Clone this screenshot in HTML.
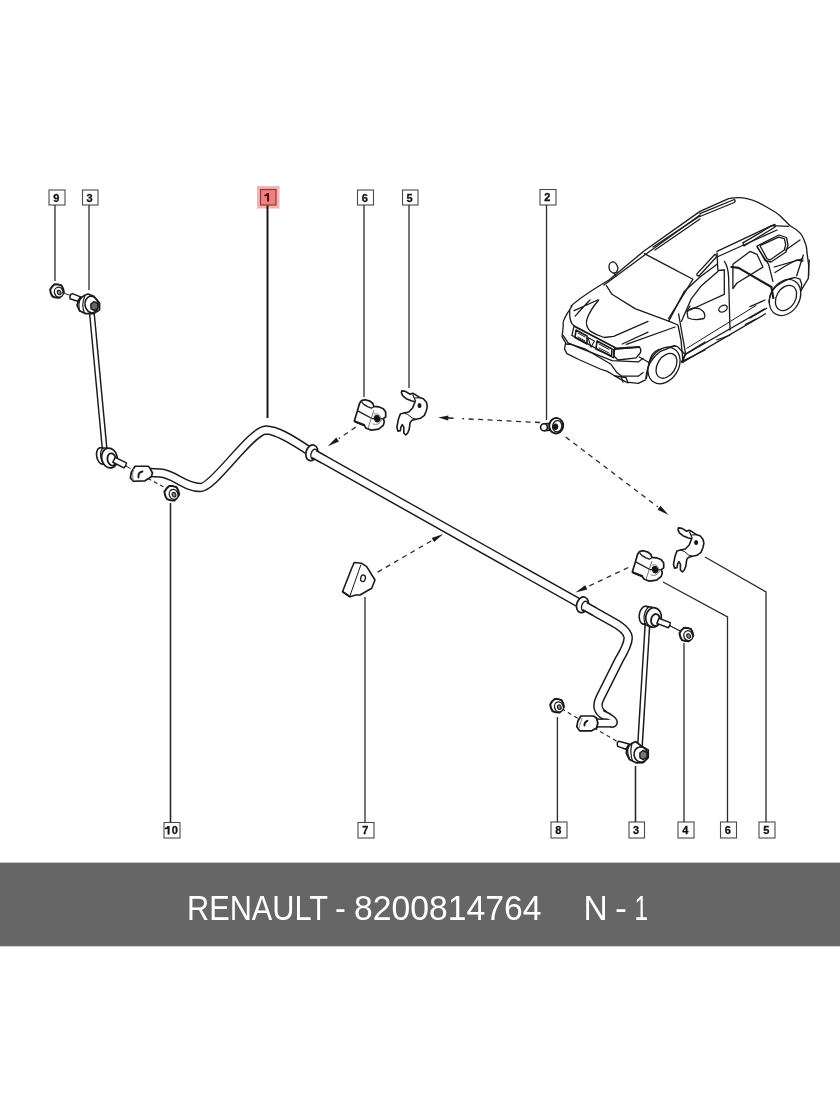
<!DOCTYPE html>
<html><head><meta charset="utf-8">
<style>
html,body{margin:0;padding:0;background:#fff;}
body{width:840px;height:1120px;position:relative;overflow:hidden;font-family:"Liberation Sans",sans-serif;}
svg{position:absolute;left:0;top:0;will-change:transform;}
#band{position:absolute;left:0;top:863px;width:840px;height:83px;background:#686868;}
#band span{position:absolute;top:0;color:#fff;font-size:32px;line-height:83px;white-space:nowrap;}
</style></head>
<body>
<svg width="840" height="1120" viewBox="0 0 840 1120">
<rect x="49" y="190" width="16" height="15" fill="#fff" stroke="#4a4a4a" stroke-width="1.1"/>
<text x="56.3" y="201.5" font-size="11" font-weight="bold" text-anchor="middle" fill="#111" stroke="#111" stroke-width="0.3" font-family="Liberation Sans">9</text>
<rect x="82.5" y="190" width="15.5" height="15" fill="#fff" stroke="#4a4a4a" stroke-width="1.1"/>
<text x="89.55" y="201.5" font-size="11" font-weight="bold" text-anchor="middle" fill="#111" stroke="#111" stroke-width="0.3" font-family="Liberation Sans">3</text>
<rect x="257.0" y="186.0" width="22.5" height="22.5" fill="#f6b3b3" stroke="none"/>
<rect x="260.5" y="189.5" width="15.5" height="15.5" fill="#f07f7f" stroke="#8a3a3a" stroke-width="1.2"/>
<path d="M267.05,192.95 L269.05,192.95 L269.05,201.45 L267.05,201.45 L267.05,195.65 Q265.65000000000003,196.25 264.25,196.35 L264.25,194.75 Q266.45000000000005,194.65 267.05,192.95 Z" fill="#5a0808"/>
<rect x="357.5" y="190" width="16.0" height="15" fill="#fff" stroke="#4a4a4a" stroke-width="1.1"/>
<text x="364.8" y="201.5" font-size="11" font-weight="bold" text-anchor="middle" fill="#111" stroke="#111" stroke-width="0.3" font-family="Liberation Sans">6</text>
<rect x="402.5" y="190" width="15.5" height="15" fill="#fff" stroke="#4a4a4a" stroke-width="1.1"/>
<text x="409.55" y="201.5" font-size="11" font-weight="bold" text-anchor="middle" fill="#111" stroke="#111" stroke-width="0.3" font-family="Liberation Sans">5</text>
<rect x="540" y="189.5" width="16" height="15.5" fill="#fff" stroke="#4a4a4a" stroke-width="1.1"/>
<text x="547.3" y="201.25" font-size="11" font-weight="bold" text-anchor="middle" fill="#111" stroke="#111" stroke-width="0.3" font-family="Liberation Sans">2</text>
<rect x="164" y="822.5" width="16" height="15.5" fill="#fff" stroke="#4a4a4a" stroke-width="1.1"/>
<path d="M167.6,825.95 L169.6,825.95 L169.6,834.45 L167.6,834.45 L167.6,828.65 Q166.20000000000002,829.25 164.8,829.35 L164.8,827.75 Q167.0,827.65 167.6,825.95 Z" fill="#111"/>
<text x="174.9" y="834.25" font-size="11" font-weight="bold" text-anchor="middle" fill="#111" stroke="#111" stroke-width="0.3" font-family="Liberation Sans">0</text>
<rect x="358" y="822.5" width="16" height="15.5" fill="#fff" stroke="#4a4a4a" stroke-width="1.1"/>
<text x="365.3" y="834.25" font-size="11" font-weight="bold" text-anchor="middle" fill="#111" stroke="#111" stroke-width="0.3" font-family="Liberation Sans">7</text>
<rect x="551" y="822" width="16" height="16" fill="#fff" stroke="#4a4a4a" stroke-width="1.1"/>
<text x="558.3" y="834.0" font-size="11" font-weight="bold" text-anchor="middle" fill="#111" stroke="#111" stroke-width="0.3" font-family="Liberation Sans">8</text>
<rect x="629" y="822" width="15.5" height="16" fill="#fff" stroke="#4a4a4a" stroke-width="1.1"/>
<text x="636.05" y="834.0" font-size="11" font-weight="bold" text-anchor="middle" fill="#111" stroke="#111" stroke-width="0.3" font-family="Liberation Sans">3</text>
<rect x="678" y="822" width="16" height="16" fill="#fff" stroke="#4a4a4a" stroke-width="1.1"/>
<text x="685.3" y="834.0" font-size="11" font-weight="bold" text-anchor="middle" fill="#111" stroke="#111" stroke-width="0.3" font-family="Liberation Sans">4</text>
<rect x="720.5" y="822" width="16.0" height="16" fill="#fff" stroke="#4a4a4a" stroke-width="1.1"/>
<text x="727.8" y="834.0" font-size="11" font-weight="bold" text-anchor="middle" fill="#111" stroke="#111" stroke-width="0.3" font-family="Liberation Sans">6</text>
<rect x="759" y="822" width="16" height="16" fill="#fff" stroke="#4a4a4a" stroke-width="1.1"/>
<text x="766.3" y="834.0" font-size="11" font-weight="bold" text-anchor="middle" fill="#111" stroke="#111" stroke-width="0.3" font-family="Liberation Sans">5</text>
<path d="M55,205 L55,281" fill="none" stroke="#2a2a2a" stroke-width="1.3"/>
<path d="M89,205 L89,290" fill="none" stroke="#2a2a2a" stroke-width="1.3"/>
<path d="M267.5,205.5 L267.5,418" fill="none" stroke="#1a1a1a" stroke-width="2.0"/>
<path d="M364,205 L364,397" fill="none" stroke="#2a2a2a" stroke-width="1.3"/>
<path d="M409,205 L409,388" fill="none" stroke="#2a2a2a" stroke-width="1.3"/>
<path d="M546.5,205 L546.5,420" fill="none" stroke="#2a2a2a" stroke-width="1.3"/>
<path d="M170.5,503 L170.5,822.5" fill="none" stroke="#2a2a2a" stroke-width="1.6"/>
<path d="M365,597 L365,822.5" fill="none" stroke="#2a2a2a" stroke-width="1.3"/>
<path d="M557.4,717 L557.4,822" fill="none" stroke="#2a2a2a" stroke-width="1.3"/>
<path d="M635.5,766 L635.5,822" fill="none" stroke="#2a2a2a" stroke-width="1.6"/>
<path d="M684,643 L684,822" fill="none" stroke="#2a2a2a" stroke-width="1.3"/>
<path d="M663,582 L727.5,617 L727.5,822" fill="none" stroke="#2a2a2a" stroke-width="1.3"/>
<path d="M705,557 L766,592 L766,822" fill="none" stroke="#2a2a2a" stroke-width="1.3"/>
<path d="M355.7,427.1 L338.85,438.59" stroke="#2a2a2a" stroke-width="1.3" stroke-dasharray="5,4.5" fill="none"/>
<path d="M327.7,446.2 L336.26,437.46 L338.97,441.42 Z" fill="#1a1a1a"/>
<path d="M540,422.5 L462.27,418.68" stroke="#2a2a2a" stroke-width="1.3" stroke-dasharray="5,4.5" fill="none"/>
<path d="M438.3,417.5 L448.41,415.59 L448.17,420.39 Z" fill="#1a1a1a"/>
<path d="M447,417.9 L453.5,418.3" fill="none" stroke="#2a2a2a" stroke-width="1.6"/>
<path d="M565.7,437.1 L657.84,506.85" stroke="#2a2a2a" stroke-width="1.3" stroke-dasharray="5,4.5" fill="none"/>
<path d="M668.6,515 L657.58,509.67 L660.48,505.84 Z" fill="#1a1a1a"/>
<path d="M377.6,572.1 L431.62,540.77" stroke="#2a2a2a" stroke-width="1.3" stroke-dasharray="5,4.5" fill="none"/>
<path d="M443.3,534 L434.12,542.10 L431.72,537.94 Z" fill="#1a1a1a"/>
<path d="M628.3,567.5 L587.61,586.73" stroke="#2a2a2a" stroke-width="1.3" stroke-dasharray="5,4.5" fill="none"/>
<path d="M575.4,592.5 L585.22,585.20 L587.27,589.54 Z" fill="#1a1a1a"/>
<path d="M141.5,475 L165,487.6" fill="none" stroke="#2a2a2a" stroke-width="1.2" stroke-dasharray="4,3"/>
<path d="M125.5,465.8 L130.5,468.6" fill="none" stroke="#2a2a2a" stroke-width="1.0"/>
<path d="M79,298 L70,294" fill="none" stroke="#2a2a2a" stroke-width="1.0"/>
<path d="M561.4,708.6 L617,741.4" fill="none" stroke="#2a2a2a" stroke-width="1.2" stroke-dasharray="4,3.5"/>
<path d="M669,625.4 L682,632" fill="none" stroke="#2a2a2a" stroke-width="1.0"/>
<path d="M150,472.5 L160,473 C174,473.5 184,487.5 200.5,487.5 C214,487.5 250,431 266,430 C276,430 290,438 312,452.9 L612,621.5 Q628,630 628.2,638 Q628,645 619,660 L600,698 C596,706 598,712 605,715.5" fill="none" stroke="#1a1a1a" stroke-width="9.6" stroke-linejoin="round" stroke-linecap="butt"/>
<path d="M150,472.5 L160,473 C174,473.5 184,487.5 200.5,487.5 C214,487.5 250,431 266,430 C276,430 290,438 312,452.9 L612,621.5 Q628,630 628.2,638 Q628,645 619,660 L600,698 C596,706 598,712 605,715.5" fill="none" stroke="#fff" stroke-width="6.699999999999999" stroke-linejoin="round" stroke-linecap="butt"/>
<path d="M596,723 L611,723" stroke="#1a1a1a" stroke-width="9.2" fill="none"/>
<path d="M595,723 L612,723" stroke="#fff" stroke-width="6.3" fill="none"/>
<path d="M603.8,710.8 Q610,713.5 613.7,716.5 Q617.5,719.5 617.2,722.8 Q616.5,727.3 611,727.3 L611.5,725.5 L611.5,720.2 L603,716 Z" fill="#fff" stroke="#1a1a1a" stroke-width="0" stroke-linejoin="round" stroke-linecap="round" />
<path d="M603.8,710.8 Q610,713.5 613.7,716.5 Q617.5,719.5 617.2,722.8 Q616.5,727.3 611,727.3" fill="none" stroke="#1a1a1a" stroke-width="1.5" stroke-linejoin="round" stroke-linecap="round" />
<path d="M135,466.25 L148.3,466.25 L150,468.3 L152.5,473 L151.25,476.7 L145,480.8 L133.3,481.25 L130.4,477.9 L131.25,472.5 Z" fill="#fff" stroke="#1a1a1a" stroke-width="1.7" stroke-linejoin="round" stroke-linecap="round" />
<path d="M142.5,471.5 Q138,472 138.5,477.5" fill="none" stroke="#1a1a1a" stroke-width="1.8" stroke-linejoin="round" stroke-linecap="round" />
<path d="M133.5,469 Q131.8,474 133,480" fill="none" stroke="#777" stroke-width="1.0" stroke-linejoin="round" stroke-linecap="round" />
<path d="M580.9,716 L593.4,716 L596.5,718 L597.8,723 L596.5,728 L591.6,730.8 L579.7,730.8 L576.8,726.7 L578,720.7 Z" fill="#fff" stroke="#1a1a1a" stroke-width="1.7" stroke-linejoin="round" stroke-linecap="round" />
<path d="M587.5,720.7 Q584,722.5 584.5,725.5" fill="none" stroke="#1a1a1a" stroke-width="1.9" stroke-linejoin="round" stroke-linecap="round" />
<path d="M596,717.5 Q599,722 597.5,728" fill="none" stroke="#1a1a1a" stroke-width="1.0" stroke-linejoin="round" stroke-linecap="round" />
<path d="M582,718.3 L579,727.9" fill="none" stroke="#888" stroke-width="1.0" stroke-linejoin="round" stroke-linecap="round" />
<ellipse cx="311.8" cy="452.8" rx="5.8" ry="8.0" transform="rotate(18 311.8 452.8)" fill="#fff" stroke="#1a1a1a" stroke-width="1.7"/>
<ellipse cx="314.06292480944376" cy="454.080301256269" rx="3.0" ry="4.9" transform="rotate(18 314.06292480944376 454.080301256269)" fill="#fff" stroke="#1a1a1a" stroke-width="1.4"/>
<path d="M314.06292480944376,454.080301256269 L323.9849797431586,459.69392984144855" stroke="#1a1a1a" stroke-width="9.6" fill="none"/>
<path d="M313.6277469614738,453.8340894762173 L324.8553354390985,460.186353401552" stroke="#fff" stroke-width="6.7" fill="none"/>
<ellipse cx="582.5" cy="604.8" rx="5.8" ry="8.0" transform="rotate(18 582.5 604.8)" fill="#fff" stroke="#1a1a1a" stroke-width="1.7"/>
<ellipse cx="584.7629248094437" cy="606.080301256269" rx="3.0" ry="4.9" transform="rotate(18 584.7629248094437 606.080301256269)" fill="#fff" stroke="#1a1a1a" stroke-width="1.4"/>
<path d="M584.7629248094437,606.080301256269 L594.6849797431586,611.6939298414485" stroke="#1a1a1a" stroke-width="9.6" fill="none"/>
<path d="M584.3277469614737,605.8340894762173 L595.5553354390985,612.186353401552" stroke="#fff" stroke-width="6.7" fill="none"/>
<path d="M91.6,310 L104.9,452" fill="none" stroke="#1a1a1a" stroke-width="6.0" stroke-linejoin="round" stroke-linecap="butt"/>
<path d="M91.6,310 L104.9,452" fill="none" stroke="#fff" stroke-width="3.1" stroke-linejoin="round" stroke-linecap="butt"/>
<path d="M63.89,292.25 L61.99,295.31 L59.39,297.78 L55.87,297.60 L52.50,296.52 L50.88,293.29 L50.11,289.75 L52.01,286.69 L54.61,284.22 L58.13,284.40 L61.50,285.48 L63.12,288.71 Z" fill="#fff" stroke="#1a1a1a" stroke-width="2.0" stroke-linejoin="round" stroke-linecap="round" />
<ellipse cx="58.8" cy="292.2" rx="4.3" ry="5.0" transform="rotate(-20 58.8 292.2)" fill="#fff" stroke="#1a1a1a" stroke-width="1.3"/>
<ellipse cx="59.2" cy="292.5" rx="1.8" ry="2.3" transform="rotate(-20 59.2 292.5)" fill="#888" stroke="#1a1a1a" stroke-width="1.1"/>
<path d="M62,292.5 L70.5,295.5" fill="none" stroke="#2a2a2a" stroke-width="1.0"/>
<path d="M72.4,293.6 L80.5,296.9 L77.6,301.2 L70,298.8 Q69.5,294.5 72.4,293.6 Z" fill="#fff" stroke="#1a1a1a" stroke-width="1.5" stroke-linejoin="round" stroke-linecap="round" />
<path d="M77,305 Q80,296 88,294 L93.8,296.4 L99.5,303.1 L99.5,309.8 L93.8,313.6 L85.7,313.6 L79.5,310.7 Z" fill="#fff" stroke="#1a1a1a" stroke-width="1.8" stroke-linejoin="round" stroke-linecap="round" />
<path d="M81,296.5 Q77.5,304 79.8,311.2 M84.8,296 Q81,305 84.5,313.2" fill="none" stroke="#1a1a1a" stroke-width="1.2" stroke-linejoin="round" stroke-linecap="round" />
<ellipse cx="91.5" cy="304.5" rx="6.5" ry="8.3" transform="rotate(-10 91.5 304.5)" fill="#fff" stroke="#1a1a1a" stroke-width="1.6"/>
<path d="M94,301.5 L97.8,303.6 L98,308 L94.5,310.5 L91,308.8 L90.8,304 Z" fill="#666" stroke="#1a1a1a" stroke-width="1.4" stroke-linejoin="round" stroke-linecap="round" />
<path d="M99.77,447.88 L107.42,448.22 L111.58,467.78 L103.23,464.12 Z" fill="#fff" stroke="#1a1a1a" stroke-width="1.5" stroke-linejoin="round"/>
<ellipse cx="101.5" cy="456" rx="4.8" ry="8.3" transform="rotate(-12 101.5 456)" fill="#fff" stroke="#1a1a1a" stroke-width="1.6"/>
<ellipse cx="105.50" cy="457.00" rx="4.72" ry="9.15" transform="rotate(-12 105.50 457.00)" fill="#fff" stroke="#1a1a1a" stroke-width="1.2"/>
<ellipse cx="109.5" cy="458" rx="7.8" ry="10" transform="rotate(-12 109.5 458)" fill="#fff" stroke="#1a1a1a" stroke-width="1.7"/>
<ellipse cx="111.8" cy="459.5" rx="4.3" ry="6.2" transform="rotate(-12 111.8 459.5)" fill="#fff" stroke="#1a1a1a" stroke-width="1.8"/>
<path d="M112.77,462.26 L123.97,467.86 Q126.27,465.94 126.43,462.94 L115.23,457.34 Z" fill="#fff" stroke="#1a1a1a" stroke-width="1.5" stroke-linejoin="round" stroke-linecap="round" />
<path d="M647.6,622 L639.8,748" fill="none" stroke="#1a1a1a" stroke-width="6.0" stroke-linejoin="round" stroke-linecap="butt"/>
<path d="M647.6,622 L639.8,748" fill="none" stroke="#fff" stroke-width="3.1" stroke-linejoin="round" stroke-linecap="butt"/>
<path d="M645.75,606.29 L654.86,607.80 L652.14,627.20 L643.25,624.11 Z" fill="#fff" stroke="#1a1a1a" stroke-width="1.5" stroke-linejoin="round"/>
<ellipse cx="644.5" cy="615.2" rx="5.2" ry="9" transform="rotate(8 644.5 615.2)" fill="#fff" stroke="#1a1a1a" stroke-width="1.6"/>
<ellipse cx="649.00" cy="616.35" rx="4.88" ry="9.40" transform="rotate(8 649.00 616.35)" fill="#fff" stroke="#1a1a1a" stroke-width="1.2"/>
<ellipse cx="653.5" cy="617.5" rx="7.8" ry="9.8" transform="rotate(8 653.5 617.5)" fill="#fff" stroke="#1a1a1a" stroke-width="1.7"/>
<ellipse cx="655.5" cy="620" rx="4.4" ry="6" transform="rotate(8 655.5 620)" fill="#fff" stroke="#1a1a1a" stroke-width="1.8"/>
<path d="M656.91,623.37 L668.31,627.77 Q670.42,625.63 670.29,622.63 L658.89,618.23 Z" fill="#fff" stroke="#1a1a1a" stroke-width="1.5" stroke-linejoin="round" stroke-linecap="round" />
<path d="M669.5,625.4 L680,631" fill="none" stroke="#2a2a2a" stroke-width="1.0"/>
<path d="M693.29,635.75 L691.39,638.81 L688.79,641.28 L685.27,641.10 L681.90,640.02 L680.28,636.79 L679.51,633.25 L681.41,630.19 L684.01,627.72 L687.53,627.90 L690.90,628.98 L692.52,632.21 Z" fill="#fff" stroke="#1a1a1a" stroke-width="2.0" stroke-linejoin="round" stroke-linecap="round" />
<ellipse cx="688.1999999999999" cy="635.7" rx="4.3" ry="5.0" transform="rotate(-20 688.1999999999999 635.7)" fill="#fff" stroke="#1a1a1a" stroke-width="1.3"/>
<ellipse cx="688.6" cy="636.0" rx="1.8" ry="2.3" transform="rotate(-20 688.6 636.0)" fill="#888" stroke="#1a1a1a" stroke-width="1.1"/>
<path d="M563.99,706.95 L562.09,710.01 L559.49,712.48 L555.97,712.30 L552.60,711.22 L550.98,707.99 L550.21,704.45 L552.11,701.39 L554.71,698.92 L558.23,699.10 L561.60,700.18 L563.22,703.41 Z" fill="#fff" stroke="#1a1a1a" stroke-width="2.0" stroke-linejoin="round" stroke-linecap="round" />
<ellipse cx="558.9" cy="706.9000000000001" rx="4.3" ry="5.0" transform="rotate(-20 558.9 706.9000000000001)" fill="#fff" stroke="#1a1a1a" stroke-width="1.3"/>
<ellipse cx="559.3000000000001" cy="707.2" rx="1.8" ry="2.3" transform="rotate(-20 559.3000000000001 707.2)" fill="#888" stroke="#1a1a1a" stroke-width="1.1"/>
<path d="M179.19,494.54 L177.14,497.82 L174.37,500.46 L170.59,500.28 L166.98,499.12 L165.25,495.66 L164.41,491.86 L166.46,488.58 L169.23,485.94 L173.01,486.12 L176.62,487.28 L178.35,490.74 Z" fill="#fff" stroke="#1a1a1a" stroke-width="2.0" stroke-linejoin="round" stroke-linecap="round" />
<ellipse cx="173.60000000000002" cy="494.4" rx="4.3" ry="5.0" transform="rotate(-20 173.60000000000002 494.4)" fill="#fff" stroke="#1a1a1a" stroke-width="1.3"/>
<ellipse cx="174.0" cy="494.7" rx="1.8" ry="2.3" transform="rotate(-20 174.0 494.7)" fill="#888" stroke="#1a1a1a" stroke-width="1.1"/>
<path d="M618.7,741.2 L629.1,744 L625.8,749.3 L617.7,746.4 Q616.5,742.5 618.7,741.2 Z" fill="#fff" stroke="#1a1a1a" stroke-width="1.5" stroke-linejoin="round" stroke-linecap="round" />
<path d="M626.3,753.1 Q627,744 635.8,741.7 L642.5,746.9 L648.2,750 L648.2,757.5 L643,762.6 L636,762.8 L629.5,759.5 Z" fill="#fff" stroke="#1a1a1a" stroke-width="1.8" stroke-linejoin="round" stroke-linecap="round" />
<path d="M628.5,745.5 Q626.5,752 629.5,759 M632,743.5 Q629.5,752 632.5,761" fill="none" stroke="#1a1a1a" stroke-width="1.2" stroke-linejoin="round" stroke-linecap="round" />
<ellipse cx="640.8" cy="754.5" rx="6.8" ry="7.6" transform="rotate(-10 640.8 754.5)" fill="#fff" stroke="#1a1a1a" stroke-width="1.6"/>
<path d="M643,750.5 L647,752.5 L647.2,757 L643.5,759.5 L640,757.8 L639.8,753 Z" fill="#777" stroke="#1a1a1a" stroke-width="1.4" stroke-linejoin="round" stroke-linecap="round" />
<path d="M544,423.8 L553,423.2 L553.5,430 L544.5,430.8 Z" fill="#999" stroke="#1a1a1a" stroke-width="1.4" stroke-linejoin="round" stroke-linecap="round" />
<ellipse cx="544" cy="427.3" rx="3.4" ry="3.5" transform="rotate(0 544 427.3)" fill="#fff" stroke="#1a1a1a" stroke-width="1.6"/>
<ellipse cx="556.2" cy="425.7" rx="7.0" ry="7.7" transform="rotate(10 556.2 425.7)" fill="#fff" stroke="#1a1a1a" stroke-width="2.0"/>
<ellipse cx="557.2" cy="426.2" rx="4.6" ry="5.6" transform="rotate(10 557.2 426.2)" fill="#fff" stroke="#1a1a1a" stroke-width="1.3"/>
<ellipse cx="555.5" cy="426.7" rx="2.4" ry="2.8" transform="rotate(0 555.5 426.7)" fill="#111" stroke="#1a1a1a" stroke-width="1.0"/>
<path d="M361.4,400.6 L365.2,399.7 L370,401.1 L372.9,403.5 L373.8,406.3 L378.6,406.8 L383.3,408.7 L385.7,412 L385.7,416.8 L383.3,418.7 L384.3,421.6 L383.3,425.4 L378.6,429.2 L371.4,430.1 L366.2,428.2 L364.3,425.4 L357.1,422.5 L354.3,421.1 L357.1,412 L359.5,403.5 Z" fill="#fff" stroke="#1a1a1a" stroke-width="1.7" stroke-linejoin="round" stroke-linecap="round" />
<path d="M361.9,402 Q363,404.5 368.1,406.8 L371.4,408.2 L373.8,406.8" fill="none" stroke="#1a1a1a" stroke-width="1.3" stroke-linejoin="round" stroke-linecap="round" />
<path d="M358.1,411.1 L372.4,418.7 L383.3,418.7" fill="none" stroke="#1a1a1a" stroke-width="1.3" stroke-linejoin="round" stroke-linecap="round" />
<path d="M373.8,410.6 L368.1,428.2" fill="none" stroke="#666" stroke-width="0.9" stroke-linejoin="round" stroke-linecap="round" />
<path d="M355,421.5 L364,425" fill="none" stroke="#1a1a1a" stroke-width="2.2" stroke-linejoin="round" stroke-linecap="round" />
<ellipse cx="377.1" cy="418.7" rx="2.6" ry="3.2" transform="rotate(-20 377.1 418.7)" fill="#111" stroke="#1a1a1a" stroke-width="1.3"/>
<path d="M374,414 Q380,412 381.5,420 Q379,426 373,424" fill="none" stroke="#777" stroke-width="0.9" stroke-linejoin="round" stroke-linecap="round" />
<path d="M401.8,390.9 L405.3,391.4 L410.2,394.3 L412.6,393.3 L415.6,394.8 L420,397.7 L423.4,398.7 L426.4,402.2 L427.3,406.1 L426.4,410.5 L424.4,415.4 L420.5,418.3 L416.1,419.3 L412.1,420.3 L410.2,422.3 L409.2,429.1 L407.7,433 L405.8,435 L403.8,433 L403.8,427.2 L402.3,424.7 L400.9,427.2 L400.4,430.6 L397.9,431.1 L396.9,427.2 L398.4,419.3 L400.4,413.9 L403.8,413 L408.7,412 L412.6,408 L415.1,401.7 L411.2,400.7 L406.3,398.7 L402.8,395.8 L401.4,392.8 Z" fill="#fff" stroke="#1a1a1a" stroke-width="1.6" stroke-linejoin="round" stroke-linecap="round" />
<path d="M403.8,413 Q408,413.5 412,418 L416.1,419.3" fill="none" stroke="#1a1a1a" stroke-width="1.0" stroke-linejoin="round" stroke-linecap="round" />
<path d="M415.1,398 L420,397.7 M413,395 L415.5,401" fill="none" stroke="#1a1a1a" stroke-width="1.2" stroke-linejoin="round" stroke-linecap="round" />
<ellipse cx="419.5" cy="405.6" rx="1.4" ry="1.9" transform="rotate(0 419.5 405.6)" fill="#111" stroke="#1a1a1a" stroke-width="1.2"/>
<g transform="translate(278 151)">
<path d="M361.4,400.6 L365.2,399.7 L370,401.1 L372.9,403.5 L373.8,406.3 L378.6,406.8 L383.3,408.7 L385.7,412 L385.7,416.8 L383.3,418.7 L384.3,421.6 L383.3,425.4 L378.6,429.2 L371.4,430.1 L366.2,428.2 L364.3,425.4 L357.1,422.5 L354.3,421.1 L357.1,412 L359.5,403.5 Z" fill="#fff" stroke="#1a1a1a" stroke-width="1.7" stroke-linejoin="round" stroke-linecap="round" />
<path d="M361.9,402 Q363,404.5 368.1,406.8 L371.4,408.2 L373.8,406.8" fill="none" stroke="#1a1a1a" stroke-width="1.3" stroke-linejoin="round" stroke-linecap="round" />
<path d="M358.1,411.1 L372.4,418.7 L383.3,418.7" fill="none" stroke="#1a1a1a" stroke-width="1.3" stroke-linejoin="round" stroke-linecap="round" />
<path d="M373.8,410.6 L368.1,428.2" fill="none" stroke="#666" stroke-width="0.9" stroke-linejoin="round" stroke-linecap="round" />
<path d="M355,421.5 L364,425" fill="none" stroke="#1a1a1a" stroke-width="2.2" stroke-linejoin="round" stroke-linecap="round" />
<ellipse cx="377.1" cy="418.7" rx="2.6" ry="3.2" transform="rotate(-20 377.1 418.7)" fill="#111" stroke="#1a1a1a" stroke-width="1.3"/>
<path d="M374,414 Q380,412 381.5,420 Q379,426 373,424" fill="none" stroke="#777" stroke-width="0.9" stroke-linejoin="round" stroke-linecap="round" />
</g>
<g transform="translate(276.6 137)">
<path d="M401.8,390.9 L405.3,391.4 L410.2,394.3 L412.6,393.3 L415.6,394.8 L420,397.7 L423.4,398.7 L426.4,402.2 L427.3,406.1 L426.4,410.5 L424.4,415.4 L420.5,418.3 L416.1,419.3 L412.1,420.3 L410.2,422.3 L409.2,429.1 L407.7,433 L405.8,435 L403.8,433 L403.8,427.2 L402.3,424.7 L400.9,427.2 L400.4,430.6 L397.9,431.1 L396.9,427.2 L398.4,419.3 L400.4,413.9 L403.8,413 L408.7,412 L412.6,408 L415.1,401.7 L411.2,400.7 L406.3,398.7 L402.8,395.8 L401.4,392.8 Z" fill="#fff" stroke="#1a1a1a" stroke-width="1.6" stroke-linejoin="round" stroke-linecap="round" />
<path d="M403.8,413 Q408,413.5 412,418 L416.1,419.3" fill="none" stroke="#1a1a1a" stroke-width="1.0" stroke-linejoin="round" stroke-linecap="round" />
<path d="M415.1,398 L420,397.7 M413,395 L415.5,401" fill="none" stroke="#1a1a1a" stroke-width="1.2" stroke-linejoin="round" stroke-linecap="round" />
<ellipse cx="419.5" cy="405.6" rx="1.4" ry="1.9" transform="rotate(0 419.5 405.6)" fill="#111" stroke="#1a1a1a" stroke-width="1.2"/>
</g>
<path d="M354.2,562.5 L361.7,563.3 L366.7,566.7 L375,580 L371.7,588.3 L360,595 L355.8,595 L350,596.7 L342.5,591.7 L351.7,568.3 Z" fill="#fff" stroke="#1a1a1a" stroke-width="1.6" stroke-linejoin="round" stroke-linecap="round" />
<path d="M360.8,565 L350,595.8" fill="none" stroke="#1a1a1a" stroke-width="1.0" stroke-linejoin="round" stroke-linecap="round" />
<path d="M343,592 L349.5,596.5" fill="none" stroke="#1a1a1a" stroke-width="2.0" stroke-linejoin="round" stroke-linecap="round" />
<ellipse cx="363" cy="578.3" rx="2.3" ry="3.3" transform="rotate(15 363 578.3)" fill="#fff" stroke="#1a1a1a" stroke-width="1.3"/>
<g id="car" fill="none" stroke="#1a1a1a" stroke-width="1.3" stroke-linejoin="round" stroke-linecap="round">
<!-- roof left edge -->
<path d="M571,306 C580,298 592,290 609,280 L644,251 L700,211.4 L728.6,198.6 C735,197.5 740,197.6 743,197.9 C752,199 758,202 764.3,205.7 C770,209 776,212 780,215.7 L790,225.7 C796,229 798,231 800,232.9 C803,236 804,240 805.7,244.3 C807,248 807,250 807,252.9 L808.6,264.3 L808.6,276"/>
<path d="M604,285 L644,255.5 L700,215"/>
<!-- left roof rail -->
<path d="M700,213.6 L734.3,199.5 Q736,201 734.3,202.5 L700,216.5"/>
<path d="M653,247 L700,216 M655,250 L700,219"/>
<!-- windshield -->
<path d="M644.3,253.6 Q668,266 692.9,279.3 L668.6,318.6"/>
<path d="M606.4,285.7 L612,294.3 L635,308.6 L669.3,321.4"/>
<!-- mirror left -->
<path d="M612,262 Q616,261 618,268 Q617,274 613,273 Q609,271 609,267 Q609,263 612,262 Z"/>
<path d="M614,273 L616,276"/>
<!-- hood creases -->
<path d="M598.7,300 Q590,310 586.9,319.3 Q585,326 590.2,331.1 Q596,335 604.1,337.5 L613.7,336.4 L648,321.4"/>
<path d="M622.3,344 L648,332.1"/>
<path d="M574.1,310.7 L597.7,300 M575.1,316.1 Q585,305 590,300"/>
<!-- front face -->
<path d="M571.9,306.4 L567.6,312.9 Q562,322 563.3,325 L562.1,336.9 L565.7,342.9 L564.5,348.8 L566.9,353.6 L578.8,359.5 L600.2,369 L607.4,371.4 L613.3,375 L619.3,378.6 L626.4,382.1 L638.3,383.3 L645.5,379.8"/>
<path d="M569.8,310.7 Q569,318 571.9,323.6 L575.1,326.8 L615.9,348.2"/>
<path d="M574.1,325.7 L614.8,347.2 L613.7,357.9 L571.9,335.4 Z"/>
<path d="M576,330 L587,336 L587,344 L575,337.5 Z M597,341 L612,349 L611.5,356 L596,349 Z" stroke-width="1.6"/>
<path d="M578,333 L585,337 M599,344 L609,349.5 M578,337 L585,341 M599,348 L609,353" stroke-width="1"/>
<path d="M588,337.5 L594.4,341 L591,347.2 Z" stroke-width="1.1"/>
<path d="M613.7,349.3 L639.5,347.2 Q641.5,349 640.5,352.5 L636.2,357.9 L618,360 L613.7,355.7 Z"/>
<path d="M616,348.5 L639,347" stroke-width="2.2"/>
<path d="M563.3,335.7 L568.1,342.9 L578.8,347.6 L612.1,360.7 L638.3,361.9 L643.1,358.3"/>
<path d="M565.7,344 L572,344.5 L584.8,348.8 L605,360.7 L611,364.3 L616.9,372.6 L621.7,376.2 L638.3,376.2 L643.1,372.6"/>
<path d="M615,376 L626,377.5 L628,383 M621,376.5 L623,382"/>
<!-- fender / arch -->
<path d="M646.4,378.6 L649.3,361.4 Q652,352 657.9,350 L675,345.7"/>
<path d="M626.4,344.3 L675,327 M639.3,357 L652,364.3"/>
<path d="M669.3,321.4 L678,325 L681,340 L683,362"/>
<!-- front wheel -->
<ellipse cx="664" cy="365.5" rx="14.5" ry="19.5" transform="rotate(32 664 365.5)" fill="#fff"/>
<ellipse cx="666.5" cy="365.8" rx="9" ry="13.5" transform="rotate(32 666.5 365.8)"/>
<path d="M645.8,378.3 Q647,368 650.8,361.7 Q655,355 660,351.7 L674.2,345.8 Q678,346 680,349.2 L685,354.2 L681.7,361.7"/>
<path d="M681.7,361.7 L705,350 M686.7,353.3 L705,342"/>
<!-- A pillar right -->
<path d="M668.6,321.4 L684.3,291.4 L700,277 L717,264.3"/>
<path d="M681.4,321.4 L691.4,298.6 L701.4,285.7 L717.9,271.4"/>
<path d="M697.1,273.6 L715,254.3 Q717,255 716,257.5 L699,276 Q696,276 697.1,273.6 Z"/>
<!-- roof right edge -->
<path d="M717,251.4 L771.4,225.7 L788.6,226.4"/>
<path d="M717,257 L777,230"/>
<path d="M742.9,242.9 L774.3,224.3 Q776,225 775,227 L744,246 Z"/>
<!-- B pillar -->
<path d="M717,252.9 L717.9,270.5 L724.3,270"/>
<path d="M724.3,261.4 Q728,266 728.6,277.1 L730,330"/>
<path d="M724.3,270 L724.3,294.3 L690,310"/>
<!-- rear quarter window -->
<path d="M760,245.7 L778.6,237.1 L784.3,238.6 L785.7,244.3 L784.3,250 L770,260 L767,258.6 Z"/>
<path d="M757,247 L768.6,264.3 L772.9,281.4"/>
<path d="M757,246 L779,235 L786.5,237.5 L788,245 L786,252 L771,262 L765,260.5 Z"/>
<!-- rear door window -->
<path d="M732.9,264.3 L750,251.4 L757,254.3 L762.9,267.1 L737,283 L732.9,288.6 Z"/>
<!-- rear lines -->
<path d="M774.3,267 L803,258.6 M785.7,250 L800,240"/>
<!-- front door -->
<path d="M678.6,313.8 L681.4,330 L685.7,354.3"/>
<path d="M685.7,354.3 L764.3,309"/>
<path d="M686.9,348.3 L756,305.5" stroke-width="1"/>
<path d="M682,362.6 L765.5,313.8 M685.7,354.3 L682,362.6"/>
<path d="M716.7,340 L729.8,335.2 M745.2,324.5 L756,319" stroke-width="1.1"/>
<!-- rear wheel -->
<ellipse cx="785" cy="297.5" rx="14.5" ry="19" transform="rotate(30 785 297.5)" fill="#fff"/>
<ellipse cx="786" cy="298" rx="9.5" ry="13.5" transform="rotate(30 786 298)"/>
<path d="M769,302 Q770,292 775.8,286.7 Q785,279 795,277.5 L800,279.2 L801.7,284.2 L800.8,290.8"/>
<path d="M800.8,290.8 L808.3,278.3 L809.2,260 M803.3,255 L796.7,275.8"/>
<path d="M775,272.5 Q786,265 796.7,260 L803,261"/>
<path d="M750,306.7 L765,300 M766.7,308.3 L750,318"/>
<!-- mirror right -->
<path d="M687,312 Q692,306 700,309 Q707,313 704,318.5 Q695,321 688,318 Z"/>
<path d="M687,311 L690,306"/>
<ellipse cx="723" cy="308.6" rx="4.5" ry="3" transform="rotate(-30 723 308.6)"/>
<!-- wire -->
<path d="M731.4,267 L738.6,267.9 L771.4,287 L773.3,298" stroke-width="2.2"/>
</g>

<rect x="0" y="862.6" width="840" height="83.7" fill="#666"/>
<text id="t0" x="187.03" y="920.2" font-family="Liberation Sans" font-size="35" fill="#fff" textLength="140.97" lengthAdjust="spacingAndGlyphs">RENAULT</text>
<text id="t1" x="335.09" y="920.2" font-family="Liberation Sans" font-size="35" fill="#fff" textLength="10.81" lengthAdjust="spacingAndGlyphs">-</text>
<text id="t2" x="354.01" y="920.2" font-family="Liberation Sans" font-size="35" fill="#fff" textLength="187.49" lengthAdjust="spacingAndGlyphs">8200814764</text>
<text id="t3" x="583.38" y="920.2" font-family="Liberation Sans" font-size="35" fill="#fff" textLength="24.22" lengthAdjust="spacingAndGlyphs">N</text>
<text id="t4" x="615.03" y="920.2" font-family="Liberation Sans" font-size="35" fill="#fff" textLength="11.96" lengthAdjust="spacingAndGlyphs">-</text>
<text id="t5" x="634.56" y="920.2" font-family="Liberation Sans" font-size="35" fill="#fff" textLength="13.48" lengthAdjust="spacingAndGlyphs">1</text>

</svg>

</body></html>
